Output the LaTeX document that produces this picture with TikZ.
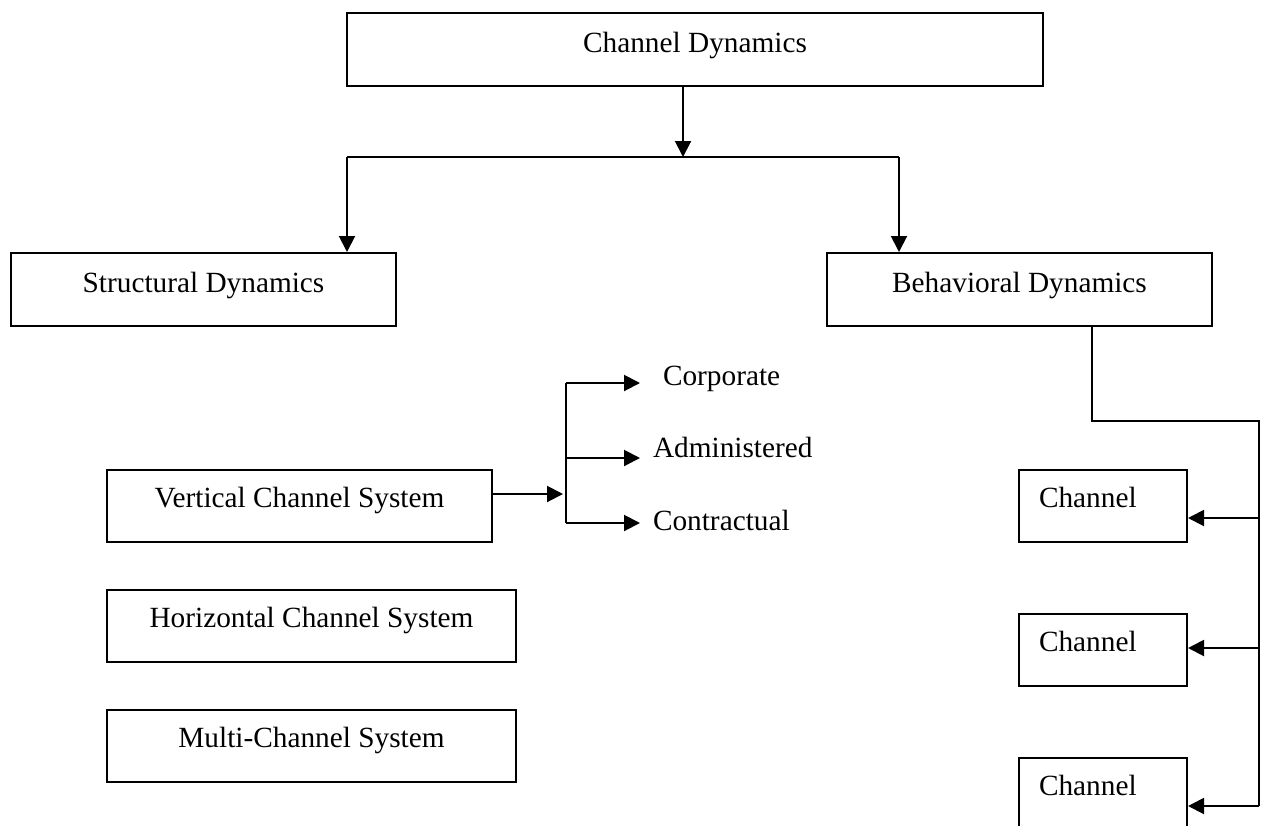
\documentclass[tikz,border=0pt]{standalone}
\usepackage{fontspec}
\setmainfont{Liberation Serif}
\usetikzlibrary{positioning,arrows.meta}

\begin{document}
\begin{tikzpicture}[x=0.5pt,y=-0.5pt,node distance=60pt,on grid,line width=1pt,
    font=\fontsize{14.65pt}{17pt}\selectfont]
      \tikzset{box/.style={draw,rectangle,inner sep=0pt,text height=18.5pt,text depth=17.5pt}}
      \tikzset{tall/.style={text height=19.5pt,text depth=17pt}}
      \tikzset{arr/.style={-{Triangle[length=8pt,width=8pt]}}}
      \useasboundingbox (0,0) rectangle (1262,825);

      \node[box,tall,minimum width=348pt] (cd) at (695,49.5) {Channel Dynamics};
      \node[box,tall,minimum width=192.5pt] (sd) at (203.5,289.5) {Structural Dynamics};
      \node[box,tall,minimum width=192.5pt] (bd) at (1019.5,289.5) {Behavioral Dynamics};

      \node[box,minimum width=192.5pt] (vcs) at (299.5,506) {Vertical Channel System};
      \node[box,minimum width=204.5pt] (hcs) at (311.5,626) {Horizontal Channel System};
      \node[box,minimum width=204.5pt] (mcs) [below = 60pt of hcs] {Multi-Channel System};

      \node[anchor=base west,inner sep=0pt] (corp) at (662,385) {Corporate};
      \node[anchor=base west,inner sep=0pt] (adm) at (652,457) {Administered};
      \node[anchor=base west,inner sep=0pt] (contr) at (652,530) {Contractual};

      \node[box,text width=64pt,inner xsep=10pt,align=left] (ch1) at (1103,506) {Channel};
      \node[box,text width=64pt,inner xsep=10pt,align=left] (ch2) [below = 72pt of ch1] {Channel};
      \node[box,text width=64pt,inner xsep=10pt,align=left] (ch3) [below = 72pt of ch2] {Channel};

      % joints of the connectors
      \coordinate (split) at (683,157);
      \coordinate (j1) at (347,157);
      \coordinate (j2) at (899,157);
      \coordinate (turn) at (1092,421);
      \coordinate (b1) at (1259,518);
      \coordinate (b2) at (1259,648);
      \coordinate (b3) at (1259,806);
      \coordinate (vin) at (563,494);
      \coordinate (v1) at (566,383);
      \coordinate (v2) at (566,458);
      \coordinate (v3) at (566,523);

      \draw[arr] (split |- cd.south) -- (split);
      \draw (j1) -- (j2);
      \draw[arr] (j1) -- (j1 |- sd.north);
      \draw[arr] (j2) -- (j2 |- bd.north);

      \draw (turn |- bd.south) -- (turn) -| (b3);
      \draw[arr] (b1) -- (b1 -| ch1.east);
      \draw[arr] (b2) -- (b2 -| ch2.east);
      \draw[arr] (b3) -- (b3 -| ch3.east);

      \draw[arr] (vcs.east |- vin) -- (vin);
      \draw (v1) -- (v3);
      \draw[arr,shorten >=11pt] (v1) -- (v1 -| corp.west);
      \draw[arr,shorten >=6pt] (v2) -- (v2 -| adm.west);
      \draw[arr,shorten >=6pt] (v3) -- (v3 -| contr.west);
    \end{tikzpicture}
\end{document}
